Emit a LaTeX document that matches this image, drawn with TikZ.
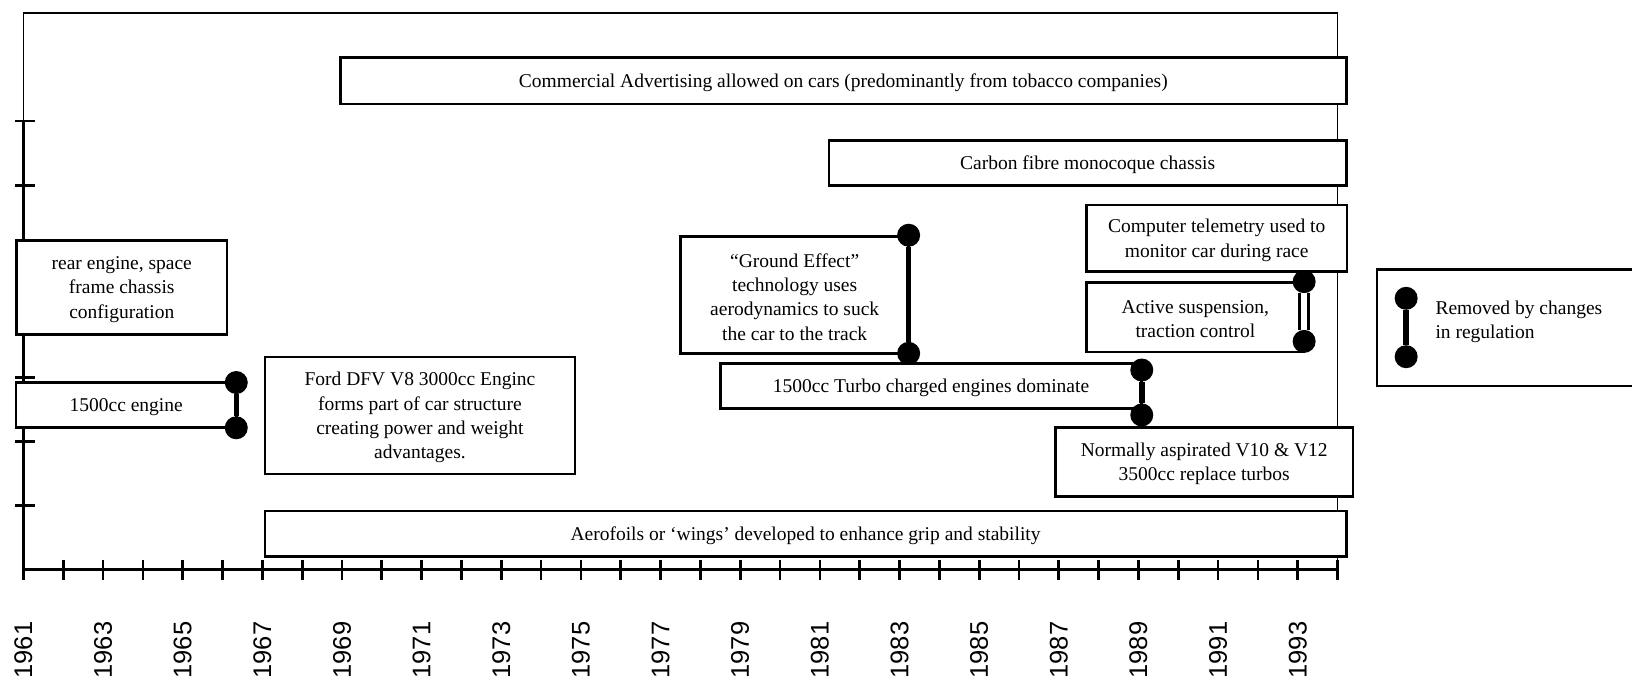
\documentclass[tikz,border=0pt]{standalone}
\usepackage{fontspec}
\setmainfont{Liberation Serif}
\newfontfamily\yearfont{Liberation Sans}
\usetikzlibrary{fit}
\newcommand\boxtext{\fontsize{19.5pt}{24.3pt}\selectfont}
\newcommand\yeartext{\yearfont\fontsize{25.5pt}{30pt}\selectfont}

\begin{document}
\begin{tikzpicture}[x=1.0408pt, y=-1.0408pt,
  frameline/.style={line width=1.5pt},
  axisline/.style={line width=3.2pt},
  tickline/.style={line width=2.7pt},
  box/.style={draw, line width=2.6pt, fill=white, inner sep=0pt},
  boxlabel/.style={align=center, font=\boxtext, inner sep=0pt, yshift=-2pt},
  dot/.style={circle, fill=black, inner sep=0pt, minimum size=23pt},
  bar/.style={line width=5.5pt},
  dbar/.style={line width=2.7pt, double=white, double distance=6.5pt},
  yearlabel/.style={font=\yeartext, rotate=90, inner sep=0pt}]

\useasboundingbox (0,0) rectangle (1568,658);

% chart frame and axes
\draw[frameline] (22.5,12.5) rectangle (1285,547.5);
\draw[axisline] (22.5,116) -- (22.5,547.5) -- (1285,547.5);
\foreach \k in {1,...,7}
  \draw[tickline] (14.5,547.5-61.6*\k) -- (33.5,547.5-61.6*\k);
\foreach \i in {0,...,33}
  \draw[tickline] (22.5+38.26*\i,538) -- (22.5+38.26*\i,557);
\foreach \i in {0,2,...,32} {
  \pgfmathtruncatemacro\yr{1961+\i}
  \node[yearlabel] (yr\yr) at (22.5+38.26*\i,624.5) {\yr};
}

% developments: outline boxes
\node[box, fit={(327,55) (1293.5,100)}] (adv) {};
\node[box, fit={(796.5,135) (1293.5,178)}] (carbon) {};
\node[box, fit={(16,231) (218,321.5)}] (rear) {};
\node[box, fit={(15.5,367.5) (227,411)}] (eng) {};
\node[box, fit={(254.5,343) (552.5,455.5)}] (ford) {};
\node[box, fit={(254.5,491) (1293.5,534.5)}] (aero) {};
\node[box, fit={(654,227) (873,339.5)}] (ground) {};
\node[box, fit={(692,349.5) (1097,392.5)}] (turbo) {};
\node[box, fit={(1044,197) (1294,261)}] (telem) {};
\node[box, fit={(1044,271.5) (1253,338)}] (active) {};
\node[box, fit={(1014,411) (1300,477)}] (aspir) {};

% developments: their texts
\node[boxlabel] (adv-t) at (adv.center)
  {Commercial Advertising allowed on cars (predominantly from tobacco companies)};
\node[boxlabel] (carbon-t) at (carbon.center) {Carbon fibre monocoque chassis};
\node[boxlabel] (rear-t) at (rear.center) {rear engine, space\\frame chassis\\configuration};
\node[boxlabel] (eng-t) at (eng.center) {1500cc engine};
\node[boxlabel] (ford-t) at (ford.center)
  {Ford DFV V8 3000cc Enginc\\forms part of car structure\\creating power and weight\\advantages.};
\node[boxlabel] (aero-t) at (aero.center)
  {Aerofoils or ‘wings’ developed to enhance grip and stability};
\node[boxlabel] (ground-t) at (ground.center)
  {“Ground Effect”\\technology uses\\aerodynamics to suck\\the car to the track};
\node[boxlabel] (turbo-t) at (turbo.center) {1500cc Turbo charged engines dominate};
\node[boxlabel] (telem-t) at (telem.center) {Computer telemetry used to\\monitor car during race};
\node[boxlabel] (active-t) at (active.center) {Active suspension,\\traction control};
\node[boxlabel] (aspir-t) at (aspir.center) {Normally aspirated V10 \& V12\\3500cc replace turbos};

% legend
\node[box, fit={(1323,259) (1590,371)}] (legend) {};
\node[boxlabel, anchor=west, align=left] (legend-t) at (1379,307.5)
  {Removed by changes\\in regulation};

% "removed by regulation" markers
\foreach \n/\x/\y in {e1/227/367.5, e2/227/411, g1/873/226, g2/873/339.5,
                      t1/1097/355.5, t2/1097/398.7, a1/1253/270.6, a2/1253/328,
                      l1/1351/286.6, l2/1351/342.7}
  \node[dot] (\n) at (\x,\y) {};
\draw[bar] (e1) -- (e2);
\draw[bar] (g1) -- (g2);
\draw[bar] (t1) -- (t2);
\draw[dbar] (a1) -- (a2);
\draw[bar] (l1) -- (l2);
\end{tikzpicture}
\end{document}
